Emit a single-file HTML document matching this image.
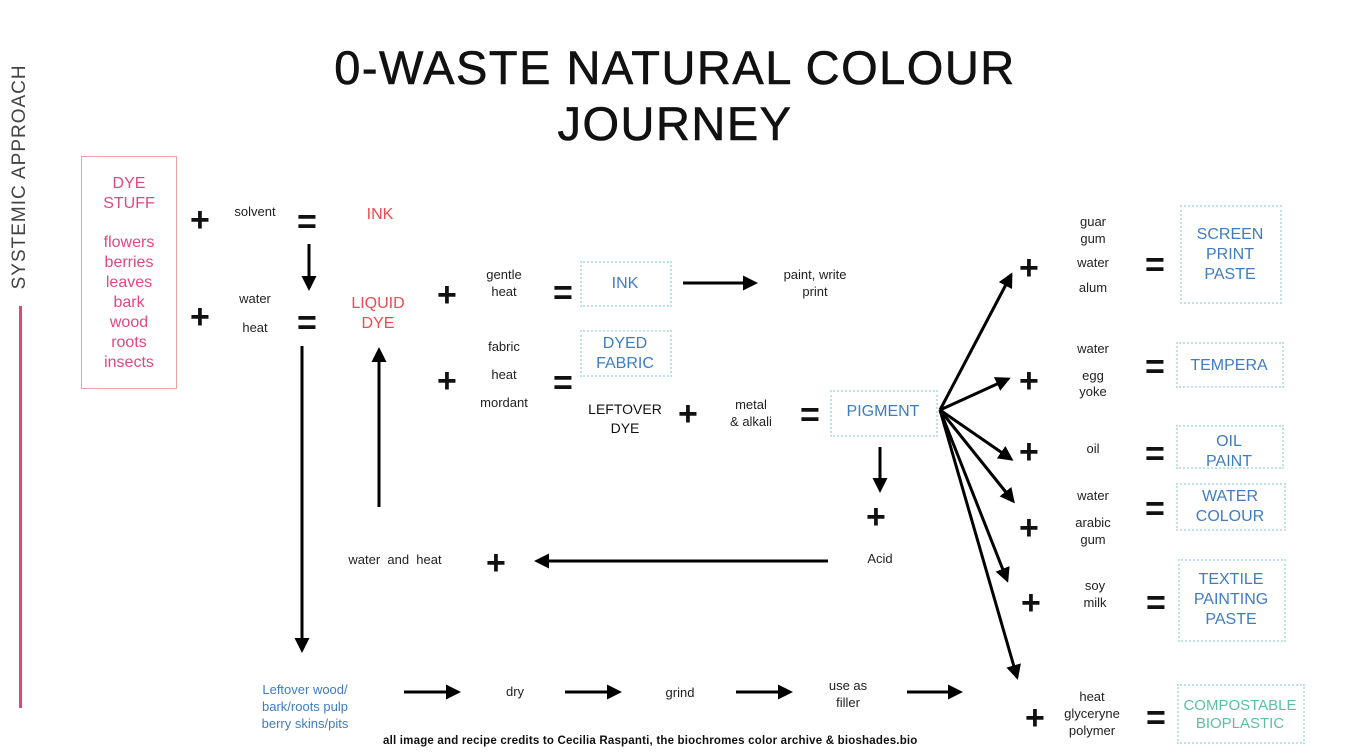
<!DOCTYPE html>
<html><head><meta charset="utf-8"><style>
body{margin:0;width:1350px;height:756px;background:#fff;position:relative;overflow:hidden;font-family:"Liberation Sans",sans-serif;}
.t{position:absolute;text-align:center;white-space:nowrap;line-height:1.25;}
.s{font-size:13px;color:#222;}
.p{font-size:16px;color:#e04880;}
.r{font-size:16px;color:#f04a50;}
.b{font-size:16px;color:#3f7cc0;}
.g{font-size:15px;color:#5cbf9e;}
.sym{position:absolute;font-size:34px;color:#111;line-height:1;font-weight:bold;}
.box{position:absolute;border:2px dotted #bfe3e0;}
</style></head><body>
<div class="t" style="left:0;width:1350px;top:40px;font-size:47px;line-height:56px;color:#111;letter-spacing:1.5px;-webkit-text-stroke:0.6px #111;">0-WASTE NATURAL COLOUR<br>JOURNEY</div>
<div class="t" style="left:-115px;top:165px;width:270px;font-size:19px;color:#444;letter-spacing:1px;transform:rotate(-90deg);">SYSTEMIC APPROACH</div>
<div style="position:absolute;left:19px;top:306px;width:3px;height:402px;background:#e0457b;"></div>

<div style="position:absolute;left:81px;top:156px;width:94px;height:231px;border:1px solid #f0a0a0;"></div>
<div class="t p" style="left:81px;width:96px;top:174px;line-height:20px;">DYE<br>STUFF</div>
<div class="t p" style="left:81px;width:96px;top:233px;line-height:20px;">flowers<br>berries<br>leaves<br>bark<br>wood<br>roots<br>insects</div>

<div class="sym" style="left:190px;top:203px;">+</div>
<div class="t s" style="left:225px;width:60px;top:204px;">solvent</div>
<div class="sym" style="left:297px;top:205px;">=</div>
<div class="t r" style="left:350px;width:60px;top:205px;">INK</div>

<div class="sym" style="left:190px;top:300px;">+</div>
<div class="t s" style="left:225px;width:60px;top:291px;">water</div>
<div class="t s" style="left:225px;width:60px;top:320px;">heat</div>
<div class="sym" style="left:297px;top:306px;">=</div>
<div class="t r" style="left:338px;width:80px;top:294px;line-height:20px;">LIQUID<br>DYE</div>

<div class="sym" style="left:437px;top:278px;">+</div>
<div class="t s" style="left:474px;width:60px;top:266px;line-height:17px;">gentle<br>heat</div>
<div class="sym" style="left:553px;top:276px;">=</div>
<div class="box" style="left:580px;top:261px;width:88px;height:42px;"></div>
<div class="t b" style="left:580px;width:90px;top:274px;">INK</div>
<div class="t s" style="left:760px;width:110px;top:266px;line-height:17px;">paint, write<br>print</div>

<div class="t s" style="left:474px;width:60px;top:339px;">fabric</div>
<div class="sym" style="left:437px;top:364px;">+</div>
<div class="t s" style="left:474px;width:60px;top:367px;">heat</div>
<div class="t s" style="left:468px;width:72px;top:395px;">mordant</div>
<div class="sym" style="left:553px;top:366px;">=</div>
<div class="box" style="left:580px;top:330px;width:88px;height:43px;"></div>
<div class="t b" style="left:580px;width:90px;top:334px;line-height:20px;">DYED<br>FABRIC</div>

<div class="t" style="left:580px;width:90px;top:400px;font-size:14px;color:#111;line-height:19px;">LEFTOVER<br>DYE</div>
<div class="sym" style="left:678px;top:397px;">+</div>
<div class="t s" style="left:718px;width:66px;top:396px;line-height:17px;">metal<br>&amp; alkali</div>
<div class="sym" style="left:800px;top:398px;">=</div>
<div class="box" style="left:830px;top:390px;width:104px;height:43px;"></div>
<div class="t b" style="left:830px;width:106px;top:402px;">PIGMENT</div>

<div class="sym" style="left:866px;top:500px;">+</div>
<div class="t s" style="left:850px;width:60px;top:551px;">Acid</div>
<div class="t s" style="left:330px;width:130px;top:552px;">water&nbsp; and&nbsp; heat</div>
<div class="sym" style="left:486px;top:546px;">+</div>

<div class="t" style="left:240px;width:130px;top:681px;font-size:13px;color:#3f7cc0;line-height:17px;">Leftover wood/<br>bark/roots pulp<br>berry skins/pits</div>
<div class="t s" style="left:490px;width:50px;top:684px;">dry</div>
<div class="t s" style="left:650px;width:60px;top:685px;">grind</div>
<div class="t s" style="left:815px;width:66px;top:677px;line-height:17px;">use as<br>filler</div>
<div class="t" style="left:383px;top:734px;font-size:11.5px;font-weight:bold;color:#111;letter-spacing:0.2px;">all image and recipe credits to Cecilia Raspanti, the biochromes color archive &amp; bioshades.bio</div>

<!-- right column -->
<div class="sym" style="left:1019px;top:251px;">+</div>
<div class="t s" style="left:1063px;width:60px;top:213px;line-height:17px;">guar<br>gum</div>
<div class="t s" style="left:1063px;width:60px;top:255px;">water</div>
<div class="t s" style="left:1063px;width:60px;top:280px;">alum</div>
<div class="sym" style="left:1145px;top:248px;">=</div>
<div class="box" style="left:1180px;top:205px;width:98px;height:95px;"></div>
<div class="t b" style="left:1180px;width:100px;top:225px;line-height:20px;">SCREEN<br>PRINT<br>PASTE</div>

<div class="t s" style="left:1063px;width:60px;top:341px;">water</div>
<div class="sym" style="left:1019px;top:364px;">+</div>
<div class="t s" style="left:1063px;width:60px;top:368px;line-height:16px;">egg<br>yoke</div>
<div class="sym" style="left:1145px;top:350px;">=</div>
<div class="box" style="left:1176px;top:342px;width:104px;height:42px;"></div>
<div class="t b" style="left:1176px;width:106px;top:356px;">TEMPERA</div>

<div class="sym" style="left:1019px;top:435px;">+</div>
<div class="t s" style="left:1063px;width:60px;top:441px;">oil</div>
<div class="sym" style="left:1145px;top:437px;">=</div>
<div class="box" style="left:1176px;top:425px;width:104px;height:40px;"></div>
<div class="t b" style="left:1176px;width:106px;top:432px;line-height:20px;">OIL<br>PAINT</div>

<div class="t s" style="left:1063px;width:60px;top:488px;">water</div>
<div class="sym" style="left:1019px;top:511px;">+</div>
<div class="t s" style="left:1063px;width:60px;top:514px;line-height:17px;">arabic<br>gum</div>
<div class="sym" style="left:1145px;top:492px;">=</div>
<div class="box" style="left:1176px;top:483px;width:106px;height:44px;"></div>
<div class="t b" style="left:1176px;width:108px;top:487px;line-height:20px;">WATER<br>COLOUR</div>

<div class="sym" style="left:1021px;top:586px;">+</div>
<div class="t s" style="left:1065px;width:60px;top:577px;line-height:17px;">soy<br>milk</div>
<div class="sym" style="left:1146px;top:586px;">=</div>
<div class="box" style="left:1178px;top:559px;width:104px;height:79px;"></div>
<div class="t b" style="left:1178px;width:106px;top:570px;line-height:20px;">TEXTILE<br>PAINTING<br>PASTE</div>

<div class="sym" style="left:1025px;top:701px;">+</div>
<div class="t s" style="left:1055px;width:74px;top:688px;line-height:17px;">heat<br>glyceryne<br>polymer</div>
<div class="sym" style="left:1146px;top:701px;">=</div>
<div class="box" style="left:1177px;top:684px;width:124px;height:56px;"></div>
<div class="t g" style="left:1177px;width:126px;top:697px;line-height:18px;">COMPOSTABLE<br>BIOPLASTIC</div>

<svg width="1350" height="756" style="position:absolute;left:0;top:0;">
<defs><marker id="a" markerWidth="5" markerHeight="5" refX="4" refY="2.5" orient="auto"><path d="M0,0 L5,2.5 L0,5 z" fill="#000"/></marker></defs>
<g stroke="#000" stroke-width="3" fill="none" marker-end="url(#a)">
<line x1="309" y1="244" x2="309" y2="288"/>
<line x1="302" y1="346" x2="302" y2="650"/>
<line x1="379" y1="507" x2="379" y2="350"/>
<line x1="683" y1="283" x2="755" y2="283"/>
<line x1="880" y1="447" x2="880" y2="490"/>
<line x1="828" y1="561" x2="537" y2="561"/>
<line x1="404" y1="692" x2="458" y2="692"/>
<line x1="565" y1="692" x2="619" y2="692"/>
<line x1="736" y1="692" x2="790" y2="692"/>
<line x1="907" y1="692" x2="960" y2="692"/>
<line x1="940" y1="410" x2="1011" y2="275"/>
<line x1="940" y1="410" x2="1008" y2="379"/>
<line x1="940" y1="410" x2="1011" y2="459"/>
<line x1="940" y1="410" x2="1013" y2="501"/>
<line x1="940" y1="410" x2="1007" y2="580"/>
<line x1="940" y1="410" x2="1017" y2="677"/>
</g></svg>
</body></html>
